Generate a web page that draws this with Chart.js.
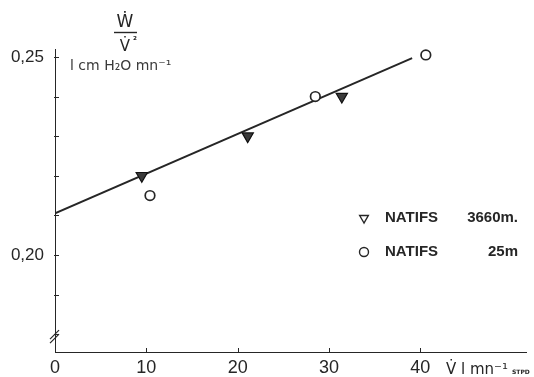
<!DOCTYPE html>
<html><head><meta charset="utf-8">
<script src="https://cdn.jsdelivr.net/npm/chart.js@4"></script>
<style>html,body{margin:0;padding:0;background:#fff}#wrap{width:534px;height:377px;position:relative}</style>
</head><body><div id="wrap"><canvas id="c"></canvas></div>
<script>
// ---- data ----
const seriesNames = ['NATIFS', 'NATIFS'];
const seriesAltitudes = ['3660m.', '25m'];
const altitudeX = [9.5, 21.1, 31.4];        // V (l/mn STPD), 3660 m
const altitudeY = [0.220, 0.230, 0.240];    // W/V²
const seaLevelX = [10.4, 28.5, 40.6];       // 25 m
const seaLevelY = [0.215, 0.240, 0.2505];
const fitLineX = [0, 39.1];
const fitLineY = [0.2105, 0.2497];
const xTickValues = [0, 10, 20, 30, 40];
const yTickValues = [0.18, 0.19, 0.20, 0.21, 0.22, 0.23, 0.24, 0.25];
const yTickLabels = {'0.2': '0,20', '0.25': '0,25'};
const xAxisTitle = ['V\u0307 l mn\u207B\u00B9', 'STPD'];
const yAxisTitle = ['\u1E86', 'V\u0307', '\u00B2', 'l cm H\u2082O mn\u207B\u00B9'];

const INK = '#262626';
const toPts = (xs, ys) => xs.map((x, i) => ({x: x, y: ys[i]}));

const decor = {
  id: 'decor',
  afterDraw(chart) {
    const ctx = chart.ctx, xs = chart.scales.x, ys = chart.scales.y, ca = chart.chartArea;
    ctx.save();
    ctx.strokeStyle = INK; ctx.fillStyle = INK; ctx.lineWidth = 1;
    // inward tick marks
    xTickValues.slice(1).forEach(v => {
      const px = Math.round(xs.getPixelForValue(v)) + 0.5;
      ctx.beginPath(); ctx.moveTo(px, ca.bottom); ctx.lineTo(px, ca.bottom - 4); ctx.stroke();
    });
    yTickValues.forEach(v => {
      const py = Math.round(ys.getPixelForValue(v)) + 0.5;
      ctx.beginPath(); ctx.moveTo(ca.left - 1, py); ctx.lineTo(ca.left + 4, py); ctx.stroke();
    });
    // axis break //
    const by = ys.getPixelForValue(0.1795), bx = ca.left;
    ctx.lineWidth = 1.2;
    [-2, 2].forEach(o => {
      ctx.beginPath(); ctx.moveTo(bx - 5, by + o + 5); ctx.lineTo(bx + 4, by + o - 4); ctx.stroke();
    });
    // y axis title (fraction)
    ctx.textAlign = 'center'; ctx.textBaseline = 'alphabetic';
    ctx.font = '17px "DejaVu Sans"';
    ctx.fillText(yAxisTitle[0], 125, 27);
    ctx.lineWidth = 1.4;
    ctx.beginPath(); ctx.moveTo(114, 32.5); ctx.lineTo(137, 32.5); ctx.stroke();
    ctx.font = '15px "DejaVu Sans"';
    ctx.fillText(yAxisTitle[1], 125, 51);
    ctx.font = 'bold 9px "DejaVu Sans"';
    ctx.fillText(yAxisTitle[2], 135, 43);
    ctx.textAlign = 'left';
    ctx.font = '14px "DejaVu Sans"';
    ctx.fillStyle = '#3a3a3a';
    ctx.fillText(yAxisTitle[3], 70, 70);
    // x axis title
    ctx.fillStyle = INK;
    ctx.font = '15px "DejaVu Sans"';
    ctx.fillText(xAxisTitle[0], 446, 374);
    ctx.font = 'bold 6px "DejaVu Sans"';
    ctx.fillText(xAxisTitle[1], 512, 374);
    // legend
    const rows = [{ds: 1, y: 218}, {ds: 2, y: 252}];
    rows.forEach((r, i) => {
      const d = chart.data.datasets[r.ds];
      ctx.strokeStyle = INK; ctx.fillStyle = 'rgba(0,0,0,0)';
      Chart.helpers.drawPoint(ctx, {pointStyle: d.pointStyle, radius: i === 0 ? 5 : 4.5,
        rotation: d.pointRotation || 0, borderWidth: 1.6}, 364, r.y);
      ctx.fillStyle = INK;
      ctx.font = 'bold 15px "Liberation Sans"';
      ctx.textAlign = 'left'; ctx.textBaseline = 'middle';
      ctx.fillText(seriesNames[i], 385, r.y);
      ctx.textAlign = 'right';
      ctx.fillText(seriesAltitudes[i], 518, r.y);
    });
    ctx.restore();
  }
};

new Chart(document.getElementById('c'), {
  type: 'scatter',
  data: {
    datasets: [
      {label: 'fit', data: toPts(fitLineX, fitLineY), showLine: true, borderColor: INK,
       borderWidth: 2, pointRadius: 0, order: 3},
      {label: seriesNames[0] + ' ' + seriesAltitudes[0], data: toPts(altitudeX, altitudeY),
       pointStyle: 'triangle', pointRotation: 180, pointRadius: 6.5,
       backgroundColor: '#3a3a3a', borderColor: '#111', borderWidth: 1.2, order: 1},
      {label: seriesNames[1] + ' ' + seriesAltitudes[1], data: toPts(seaLevelX, seaLevelY),
       pointStyle: 'circle', pointRadius: 4.8,
       backgroundColor: '#fff', borderColor: INK, borderWidth: 1.7, order: 1}
    ]
  },
  options: {
    responsive: true, maintainAspectRatio: false, animation: false,
    layout: {padding: {top: 49, right: 4, left: 0, bottom: 0}},
    plugins: {legend: {display: false}, tooltip: {enabled: false}},
    scales: {
      x: {
        type: 'linear', min: 0, max: 51.6,
        afterBuildTicks: s => { s.ticks = xTickValues.map(v => ({value: v})); },
        afterFit: s => { s.height = 25; },
        grid: {drawOnChartArea: false, drawTicks: false},
        border: {color: INK, width: 1},
        ticks: {color: INK, font: {family: '"Liberation Sans"', size: 18}, padding: 5,
                maxRotation: 0, callback: v => String(v)}
      },
      y: {
        type: 'linear', min: 0.1755, max: 0.252,
        afterBuildTicks: s => { s.ticks = yTickValues.map(v => ({value: v})); },
        afterFit: s => { s.width = 55; },
        grid: {drawOnChartArea: false, drawTicks: false},
        border: {color: INK, width: 1},
        ticks: {color: INK, font: {family: '"Liberation Sans"', size: 17}, padding: 11,
                callback: v => yTickLabels[String(Math.round(v * 100) / 100)] || ''}
      }
    }
  },
  plugins: [decor]
});
</script></body></html>
